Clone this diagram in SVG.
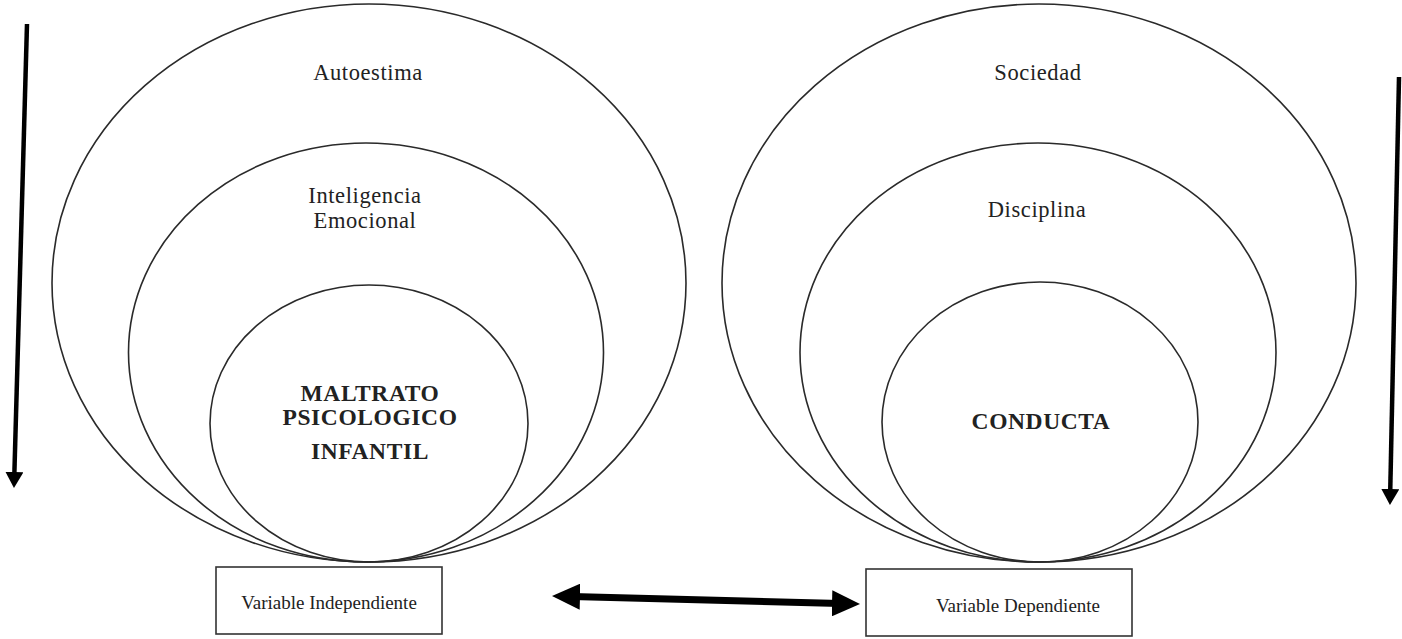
<svg xmlns="http://www.w3.org/2000/svg" width="1402" height="639" viewBox="0 0 1402 639">
<style>
.ring{fill:none;stroke:#2a2a2a;stroke-width:1.6}
.box{fill:#fff;stroke:#333;stroke-width:1.6}
.lbl{font-family:"Liberation Serif","Times New Roman",serif;fill:#222;text-anchor:middle;font-size:22.5px;letter-spacing:0.6px}
.bold{font-weight:bold;font-size:23.5px;letter-spacing:0.6px}
.small{font-size:19px;letter-spacing:0px}
.arr{stroke:#000;fill:none}
</style>
<defs>
<marker id="head" viewBox="0 0 16 18" refX="4" refY="9" markerWidth="16" markerHeight="18" markerUnits="userSpaceOnUse" orient="auto">
<path d="M0,0 L16,9 L0,18 z" fill="#000"/>
</marker>
<marker id="bighead" viewBox="0 0 28 26" refX="8" refY="13" markerWidth="28" markerHeight="26" markerUnits="userSpaceOnUse" orient="auto-start-reverse">
<path d="M0,0 L28,13 L0,26 z" fill="#000"/>
</marker>
</defs>
<rect width="1402" height="639" fill="#fff"/>
<g id="autoestima">
<ellipse class="ring" cx="369" cy="283" rx="317" ry="279"/>
<text class="lbl" x="368" y="80">Autoestima</text>
</g>
<g id="inteligencia">
<ellipse class="ring" cx="366" cy="352.5" rx="237.5" ry="209.5"/>
<text class="lbl" x="365" y="203">Inteligencia</text>
<text class="lbl" x="365" y="228">Emocional</text>
</g>
<g id="maltrato">
<ellipse class="ring" cx="369" cy="423.5" rx="159" ry="138.5"/>
<text class="lbl bold" x="370" y="401">MALTRATO</text>
<text class="lbl bold" x="370" y="425">PSICOLOGICO</text>
<text class="lbl bold" x="370" y="459">INFANTIL</text>
</g>
<g id="sociedad">
<ellipse class="ring" cx="1039" cy="283" rx="317" ry="279"/>
<text class="lbl" x="1038" y="80">Sociedad</text>
</g>
<g id="disciplina">
<ellipse class="ring" cx="1038" cy="352.5" rx="238" ry="209.5"/>
<text class="lbl" x="1037" y="217">Disciplina</text>
</g>
<g id="conducta">
<ellipse class="ring" cx="1040" cy="422" rx="158" ry="140"/>
<text class="lbl bold" x="1041" y="429">CONDUCTA</text>
</g>
<g id="var-independiente">
<rect class="box" x="216" y="567" width="226" height="67"/>
<text class="lbl small" x="329" y="609">Variable Independiente</text>
</g>
<g id="var-dependiente">
<rect class="box" x="866" y="569" width="266" height="67"/>
<text class="lbl small" x="1018" y="612">Variable Dependiente</text>
</g>
<g id="connectors">
<line class="arr" x1="27" y1="24" x2="14.3" y2="476" stroke-width="4.5" marker-end="url(#head)"/>
<line class="arr" x1="1399" y1="77" x2="1390.2" y2="493" stroke-width="4.5" marker-end="url(#head)"/>
<line class="arr" x1="572" y1="596.5" x2="840" y2="603.5" stroke-width="7" marker-start="url(#bighead)" marker-end="url(#bighead)"/>
</g>
</svg>
